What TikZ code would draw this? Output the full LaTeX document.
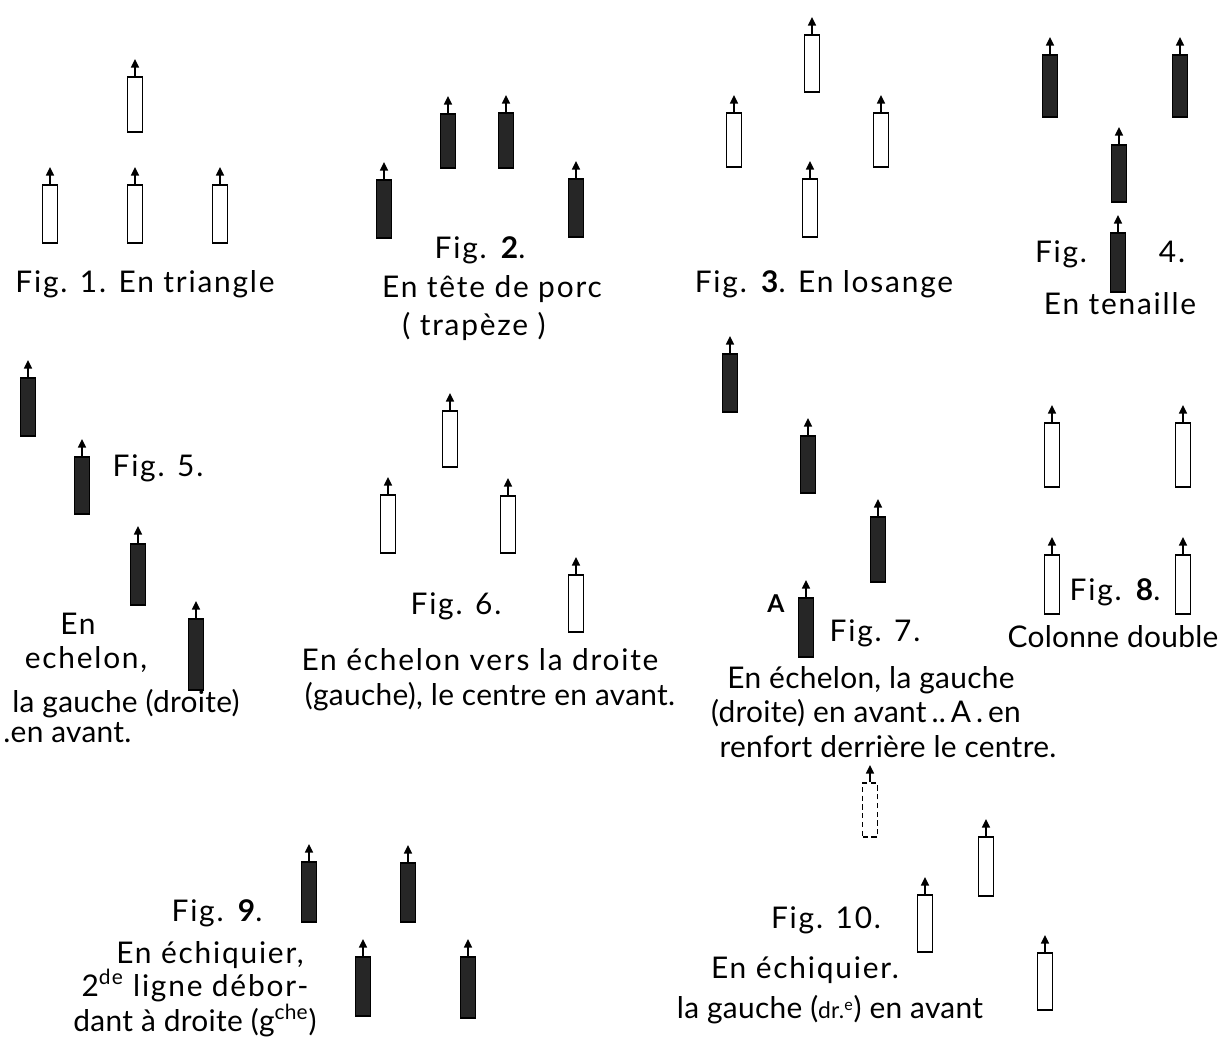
\documentclass[tikz,border=0pt]{standalone}
\usepackage{fontspec}
\setmainfont{Lato}
\newfontfamily\handfont[LetterSpace=6]{Lato}
\newfontfamily\handtight[LetterSpace=1]{Lato}
\usetikzlibrary{arrows.meta}
\tikzset{
  unitopen/.style={rectangle, draw=black, line width=1.1pt, fill=white, minimum width=0.3cm, inner sep=0pt},
  unitfill/.style={unitopen, fill=black!85},
  unitdash/.style={unitopen, densely dashed},
  fwd/.style={-{Triangle[length=0.17cm,width=0.16cm]}, line width=0.9pt},
  lbl/.style={font=\handfont\fontsize{17}{20}\selectfont, anchor=base, inner sep=0pt},
  lbltight/.style={lbl, font=\handtight\fontsize{17}{20}\selectfont},
}
\newcommand\unitnode[5]{%
  \node[#2, minimum height=#5*0.02cm] (#1) at (#3,#4) {};
  \draw[fwd] (#1.north) -- ++(0,-17);}
\begin{document}
\begin{tikzpicture}[x=0.02cm, y=-0.02cm]
\useasboundingbox (0,0) rectangle (1218,1042);
% Fig 1
\unitnode{a1}{unitopen}{135}{104.5}{55}
\unitnode{a2}{unitopen}{50}{214}{58}
\unitnode{a3}{unitopen}{135}{214}{58}
\unitnode{a4}{unitopen}{220}{214}{58}
\node[lbl] (t1) at (145,292) {Fig. 1. En triangle};
% Fig 2
\unitnode{b1}{unitfill}{384}{209}{58}
\unitnode{b2}{unitfill}{448}{141}{54}
\unitnode{b3}{unitfill}{506}{140.5}{55}
\unitnode{b4}{unitfill}{576}{208}{58}
\node[lbl] (t2a) at (480,258) {Fig. \textbf{2}.};
\node[lbl] (t2b) at (492,297) {En tête de porc};
\node[lbl] (t2c) at (474,335) {( trapèze )};
% Fig 3
\unitnode{c1}{unitopen}{812}{63.5}{57}
\unitnode{c2}{unitopen}{734}{140}{54}
\unitnode{c3}{unitopen}{881}{140}{54}
\unitnode{c4}{unitopen}{810}{208}{58}
\node[lbl] (t3) at (824,292) {Fig. \textbf{3}. En losange};
% Fig 4
\unitnode{d1}{unitfill}{1050}{86}{62}
\unitnode{d2}{unitfill}{1180}{86}{62}
\unitnode{d3}{unitfill}{1119}{173.5}{57}
\unitnode{d4}{unitfill}{1118}{262.5}{59}
\node[lbl] (t4a) at (1061,262) {Fig.};
\node[lbl] (t4b) at (1172,262) {4.};
\node[lbl] (t4c) at (1120,314) {En tenaille};
% Fig 5
\unitnode{e1}{unitfill}{28}{407}{58}
\unitnode{e2}{unitfill}{82}{485.5}{57}
\unitnode{e3}{unitfill}{138}{574.5}{61}
\unitnode{e4}{unitfill}{196}{654.5}{71}
\node[lbl] (t5a) at (158,476) {Fig. 5.};
\node[lbl] (t5b) at (78,634) {En};
\node[lbl] (t5c) at (86,668) {echelon,};
\node[lbltight] (t5d) at (126,712) {la gauche (droite)};
\node[lbltight, anchor=base west] (t5e) at (3,742) {.en avant.};
% Fig 6
\unitnode{f1}{unitopen}{450}{439}{56}
\unitnode{f2}{unitopen}{388}{524}{58}
\unitnode{f3}{unitopen}{508}{524.5}{57}
\unitnode{f4}{unitopen}{576}{603.5}{57}
\node[lbl] (t6a) at (456,614) {Fig. 6.};
\node[lbl] (t6b) at (480,670) {En échelon vers la droite};
\node[lbltight] (t6c) at (490,705) {(gauche), le centre en avant.};
% Fig 7
\unitnode{g1}{unitfill}{730}{383}{58}
\unitnode{g2}{unitfill}{808}{464.5}{57}
\unitnode{g3}{unitfill}{878}{549.5}{65}
\unitnode{g4}{unitfill}{806}{627.5}{59}
\node[lbl, font=\fontsize{14}{16}\selectfont\bfseries] (tA) at (776,612) {A};
\node[lbl] (t7a) at (875,641) {Fig. 7.};
\node[lbltight] (t7b) at (871,688) {En échelon, la gauche};
\node[lbltight] (t7c) at (866,722) {(droite) en avant\,..\,A\,.\,en};
\node[lbltight] (t7d) at (888,757) {renfort derrière le centre.};
% Fig 8
\unitnode{h1}{unitopen}{1052}{455}{64}
\unitnode{h2}{unitopen}{1183}{455}{64}
\unitnode{h3}{unitopen}{1052}{584.5}{59}
\unitnode{h4}{unitopen}{1183}{584.5}{59}
\node[lbl] (t8a) at (1115,600) {Fig. \textbf{8}.};
\node[lbltight] (t8b) at (1113,647) {Colonne double};
% Fig 9
\unitnode{i1}{unitfill}{309}{892}{60}
\unitnode{i2}{unitfill}{408}{892.5}{59}
\unitnode{i3}{unitfill}{363}{986.5}{59}
\unitnode{i4}{unitfill}{468}{987.5}{61}
\node[lbl] (t9a) at (217,921) {Fig. \textbf{9}.};
\node[lbl] (t9b) at (210,963) {En échiquier,};
\node[lbl] (t9c) at (195,996) {2\textsuperscript{de} ligne débor-};
\node[lbltight] (t9d) at (195,1031) {dant à droite (g\textsuperscript{che})};
% Fig 10
\unitnode{j1}{unitdash}{870}{810}{54}
\unitnode{j2}{unitopen}{986}{866.5}{59}
\unitnode{j3}{unitopen}{925}{923.5}{57}
\unitnode{j4}{unitopen}{1045}{981.5}{57}
\node[lbl] (t10a) at (826,928) {Fig. 10.};
\node[lbl] (t10b) at (805,978) {En échiquier.};
\node[lbltight] (t10c) at (830,1018) {la gauche ({\fontsize{13}{15}\selectfont dr.\textsuperscript{e}}) en avant};
\end{tikzpicture}
\end{document}
